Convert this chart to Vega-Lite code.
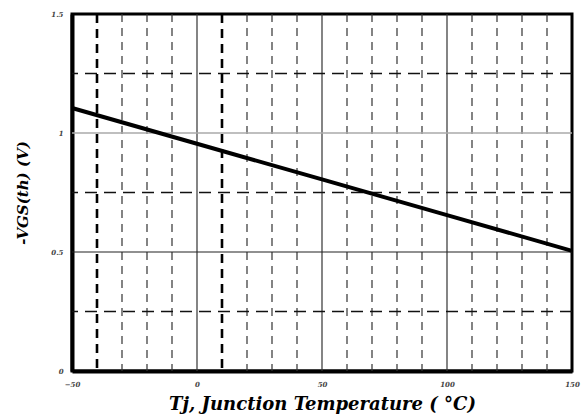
{
  "$schema": "https://vega.github.io/schema/vega-lite/v6.json",
  "autosize": "none",
  "width": 500,
  "height": 357,
  "padding": {"left": 72, "top": 14, "right": 10, "bottom": 48},
  "background": "white",
  "view": {"stroke": "black", "strokeWidth": 3},
  "datasets": {
    "curve": [
      {"Tj": -50, "V": 1.105},
      {"Tj": 0, "V": 0.955},
      {"Tj": 50, "V": 0.805},
      {"Tj": 100, "V": 0.655},
      {"Tj": 150, "V": 0.505}
    ],
    "vthick": [{"x": -40}, {"x": 10}],
    "vthin": [{"x": -30}, {"x": -20}, {"x": -10}, {"x": 20}, {"x": 30}, {"x": 40}, {"x": 60}, {"x": 70}, {"x": 80}, {"x": 90}, {"x": 110}, {"x": 120}, {"x": 130}, {"x": 140}],
    "vsolid": [{"x": 0}, {"x": 50}, {"x": 100}],
    "hdash": [{"y": 0.25}, {"y": 0.75}, {"y": 1.25}],
    "hsolid": [{"y": 0.5}],
    "hgray": [{"y": 1.0}]
  },
  "layer": [
    {
      "data": {"name": "vthin"},
      "mark": {"type": "rule", "color": "#333", "strokeWidth": 1.2, "strokeDash": [8, 6]},
      "encoding": {"x": {"field": "x", "type": "quantitative", "scale": {"domain": [-50, 150]}}}
    },
    {
      "data": {"name": "vthick"},
      "mark": {"type": "rule", "color": "#000", "strokeWidth": 2.6, "strokeDash": [9, 6]},
      "encoding": {"x": {"field": "x", "type": "quantitative"}}
    },
    {
      "data": {"name": "vsolid"},
      "mark": {"type": "rule", "color": "#333", "strokeWidth": 1.2},
      "encoding": {"x": {"field": "x", "type": "quantitative"}}
    },
    {
      "data": {"name": "hdash"},
      "mark": {"type": "rule", "color": "#111", "strokeWidth": 1.3, "strokeDash": [12, 7]},
      "encoding": {"y": {"field": "y", "type": "quantitative", "scale": {"domain": [0, 1.5]}}}
    },
    {
      "data": {"name": "hsolid"},
      "mark": {"type": "rule", "color": "#222", "strokeWidth": 1.2},
      "encoding": {"y": {"field": "y", "type": "quantitative"}}
    },
    {
      "data": {"name": "hgray"},
      "mark": {"type": "rule", "color": "#aaa", "strokeWidth": 1.5},
      "encoding": {"y": {"field": "y", "type": "quantitative"}}
    },
    {
      "data": {"name": "curve"},
      "mark": {"type": "line", "color": "black", "strokeWidth": 4},
      "encoding": {
        "x": {
          "field": "Tj", "type": "quantitative",
          "scale": {"domain": [-50, 150], "nice": false},
          "axis": {
            "title": "Tj, Junction Temperature ( °C)",
            "values": [-50, 0, 50, 100, 150],
            "grid": false, "ticks": false, "labelFlush": false,
            "domainColor": "black", "domainWidth": 4,
            "labelFont": "DejaVu Serif", "labelFontStyle": "italic", "labelFontWeight": "bold",
            "labelFontSize": 7, "labelColor": "#444", "labelPadding": 9,
            "titleFont": "DejaVu Serif", "titleFontStyle": "italic", "titleFontWeight": "bold",
            "titleFontSize": 18, "titleColor": "black", "titlePadding": 8
          }
        },
        "y": {
          "field": "V", "type": "quantitative",
          "scale": {"domain": [0, 1.5], "nice": false},
          "axis": {
            "title": "-VGS(th) (V)",
            "values": [0, 0.5, 1, 1.5], "format": "~g",
            "grid": false, "ticks": false, "labelFlush": false,
            "domainColor": "black", "domainWidth": 4,
            "labelFont": "DejaVu Serif", "labelFontStyle": "italic", "labelFontWeight": "bold",
            "labelFontSize": 7, "labelColor": "#444", "labelPadding": 9,
            "titleFont": "DejaVu Serif", "titleFontStyle": "italic", "titleFontWeight": "bold",
            "titleFontSize": 15, "titleColor": "black", "titlePadding": 20
          }
        }
      }
    }
  ]
}
